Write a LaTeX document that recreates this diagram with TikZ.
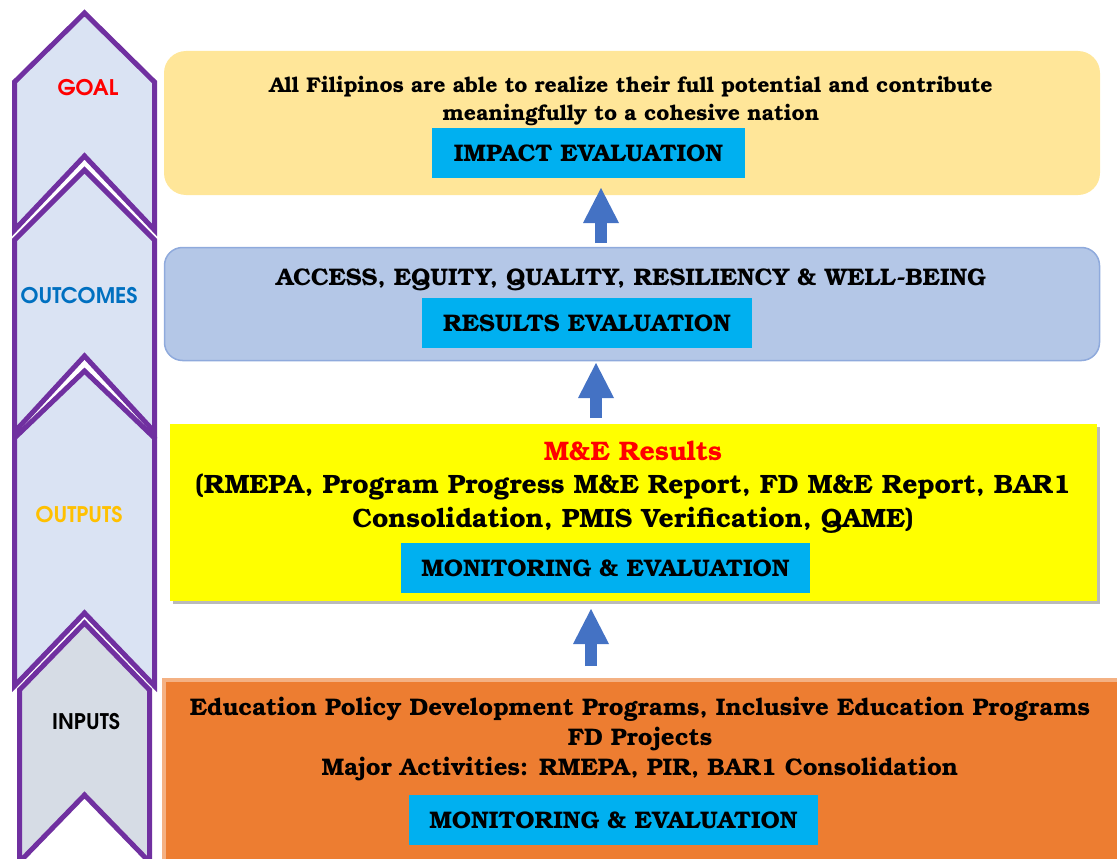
\documentclass[tikz,border=0pt]{standalone}
\usepackage{fontspec}
\usetikzlibrary{arrows.meta,shadows}
\newfontfamily\bk{texgyrebonum-bold.otf}
\newfontfamily\adv{texgyreadventor-bold.otf}
\definecolor{purp}{HTML}{7030A0}
\definecolor{chevfill}{HTML}{DAE3F3}
\definecolor{chevgray}{HTML}{D6DCE5}
\definecolor{goalfill}{HTML}{FFE699}
\definecolor{outcfill}{HTML}{B4C7E7}
\definecolor{outcline}{HTML}{8FAADC}
\definecolor{outfill}{HTML}{FFFF00}
\definecolor{infill}{HTML}{ED7D31}
\definecolor{inline}{HTML}{F4B183}
\definecolor{evcyan}{HTML}{00B0F0}
\definecolor{arrblue}{HTML}{4472C4}
\definecolor{outcblue}{HTML}{0070C0}
\definecolor{outgold}{HTML}{FFC000}
\begin{document}
\begin{tikzpicture}[x=1pt,y=-1pt,
  chev/.style={draw=purp,line width=5pt,fill=chevfill,line join=miter},
  lbl/.style={font=\adv\fontsize{21.5}{24}\selectfont},
  body/.style={font=\bk\fontsize{24}{30}\selectfont,align=center,inner sep=0},
  evbox/.style={fill=evcyan,inner sep=0,minimum height=50pt,font=\bk\fontsize{24}{26}\selectfont},
  blockarrow/.style={draw=arrblue,line width=12pt,-{Triangle[width=36pt,length=35pt,line width=0pt]}}
]
\useasboundingbox (0,0) rectangle (1117,859);
\clip (0,0) rectangle (1117,859);
% chevrons
\path[chev] (14.5,82) -- (84.5,13) -- (154.5,82) -- (154.5,230) -- (84.5,156) -- (14.5,230) -- cycle;
\path[chev] (14.5,240) -- (84.5,170) -- (154.5,240) -- (154.5,432) -- (84.5,356) -- (14.5,432) -- cycle;
\path[chev] (14.5,438) -- (84.5,371) -- (154.5,438) -- (154.5,686) -- (84.5,613) -- (14.5,686) -- cycle;
\path[chev,fill=chevgray] (19.5,690) -- (84.5,623) -- (149.5,690) -- (149.5,862) -- (84.5,795) -- (19.5,862) -- cycle;
\node[lbl,text=red] (lgoal) at (88,88) {GOAL};
\node[lbl,text=outcblue] (lout) at (79,296) {OUTCOMES};
\node[lbl,text=outgold] (lputs) at (79,515) {OUTPUTS};
\node[lbl,text=black] (lin) at (86,722) {INPUTS};
% boxes
\node[fill=goalfill,rounded corners=22pt,minimum width=936pt,minimum height=144pt,inner sep=0] (goalbox) at (632,123) {};
\node[fill=outcfill,draw=outcline,line width=1.5pt,rounded corners=18pt,minimum width=935pt,minimum height=113pt,inner sep=0] (outcbox) at (632,304) {};
\node[fill=outfill,minimum width=927pt,minimum height=177pt,inner sep=0,drop shadow={shadow xshift=3pt,shadow yshift=-3pt,opacity=.45,fill=black!60}] (outbox) at (633.5,512.5) {};
\node[fill=infill,draw=inline,line width=4pt,minimum width=970pt,minimum height=200pt,inner sep=0,anchor=north west] (inbox) at (162,678) {};
% texts
\node[body,font=\bk\fontsize{21.3}{28}\selectfont] (t1) at (631,101) {All Filipinos are able to realize their full potential and contribute\\meaningfully to a cohesive nation};
\node[evbox,minimum width=313pt] (impact) at (588.5,153) {IMPACT EVALUATION};
\node[body] (t2) at (631,280) {ACCESS, EQUITY, QUALITY, RESILIENCY \& WELL-BEING};
\node[evbox,minimum width=330pt] (results) at (587,323) {RESULTS EVALUATION};
\node[body,font=\bk\fontsize{26.8}{34}\selectfont,text=red] (t3a) at (633,451) {M\&E Results};
\node[body,font=\bk\fontsize{26.5}{34}\selectfont] (t3b) at (633,504) {(RMEPA, Program Progress M\&E Report, FD M\&E Report, BAR1\\Consolidation, PMIS Verification, QAME)};
\node[evbox,minimum width=409pt] (mon1) at (605.5,568) {MONITORING \& EVALUATION};
\node[body] (t4) at (640,739) {Education Policy Development Programs, Inclusive Education Programs\\FD Projects\\Major Activities: RMEPA, PIR, BAR1 Consolidation};
\node[evbox,minimum width=409pt] (mon2) at (613.5,820) {MONITORING \& EVALUATION};
% arrows
\coordinate (a1s) at (601,243); \coordinate (a1e) at (601,188);
\coordinate (a2s) at (596,418); \coordinate (a2e) at (596,363);
\coordinate (a3s) at (591,666); \coordinate (a3e) at (591,609);
\draw[blockarrow] (a1s) -- (a1e);
\draw[blockarrow] (a2s) -- (a2e);
\draw[blockarrow] (a3s) -- (a3e);
\end{tikzpicture}
\end{document}
